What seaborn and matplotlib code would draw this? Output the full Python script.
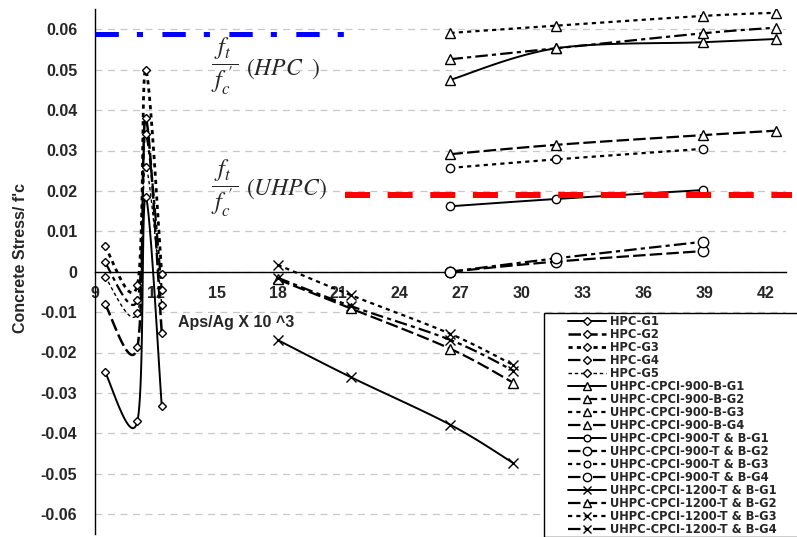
import numpy as np
import matplotlib
matplotlib.use("Agg")
import matplotlib.pyplot as plt
import seaborn as sns
from matplotlib.lines import Line2D
from matplotlib.patches import Rectangle
from matplotlib.ticker import MultipleLocator, FuncFormatter, FixedLocator

# ---- data: Aps/Ag x 10^3 vs concrete stress / f'c ----
hpc_x = [9.5, 11.1, 11.5, 12.3]
hpc_g1 = [-0.0248, -0.0370, 0.0185, -0.0333]
hpc_g2 = [-0.0080, -0.0186, 0.0380, -0.0151]
hpc_g3 = [0.0063, -0.0033, 0.0500, -0.0006]
hpc_g4 = [0.0023, -0.0070, 0.0340, -0.0045]
hpc_g5 = [-0.0012, -0.0103, 0.0260, -0.0082]

b900_x = [26.5, 31.7, 38.9, 42.5]
b900_g1 = [0.0475, 0.0553, 0.0568, 0.0576]
b900_g2 = [0.0291, 0.0314, 0.0338, 0.0349]
b900_g3 = [0.0591, 0.0609, 0.0633, 0.0641]
b900_g4 = [0.0526, 0.0553, 0.0590, 0.0604]

tb900_x = [26.5, 31.7, 38.9]
tb900_g1 = [0.0162, 0.0180, 0.0202]
tb900_g2 = [0.0000, 0.0025, 0.0051]
tb900_g3 = [0.0257, 0.0278, 0.0304]
tb900_g4 = [0.0000, 0.0033, 0.0074]

tb1200_x = [18.0, 21.6, 26.5, 29.6]
tb1200_g1 = [-0.0169, -0.0261, -0.0379, -0.0474]
tb1200_g2 = [-0.0019, -0.0091, -0.0191, -0.0275]
tb1200_g3 = [0.0017, -0.0058, -0.0154, -0.0231]
tb1200_g4 = [-0.0015, -0.0085, -0.0169, -0.0245]

# tensile / compressive strength ratios
ratio_hpc = 0.0588
ratio_hpc_span = [9.0, 21.3]
ratio_uhpc = 0.0191
ratio_uhpc_span = [21.3, 43.3]

x_ticks = [9, 12, 15, 18, 21, 24, 27, 30, 33, 36, 39, 42]
y_ticks = [-0.06, -0.05, -0.04, -0.03, -0.02, -0.01, 0.0,
           0.01, 0.02, 0.03, 0.04, 0.05, 0.06]

labels = [
    "HPC-G1", "HPC-G2", "HPC-G3", "HPC-G4", "HPC-G5",
    "UHPC-CPCI-900-B-G1", "UHPC-CPCI-900-B-G2", "UHPC-CPCI-900-B-G3",
    "UHPC-CPCI-900-B-G4",
    "UHPC-CPCI-900-T & B-G1", "UHPC-CPCI-900-T & B-G2",
    "UHPC-CPCI-900-T & B-G3", "UHPC-CPCI-900-T & B-G4",
    "UHPC-CPCI-1200-T & B-G1", "UHPC-CPCI-1200-T & B-G2",
    "UHPC-CPCI-1200-T & B-G3", "UHPC-CPCI-1200-T & B-G4",
]

# ---- styling ----
sns.set_style("white")
plt.rcParams["font.family"] = ["Liberation Sans", "DejaVu Sans"]
plt.rcParams["axes.unicode_minus"] = False
plt.rcParams["lines.scale_dashes"] = False
plt.rcParams["mathtext.fontset"] = "stix"

W, H = 797, 537
fig = plt.figure(figsize=(W / 100, H / 100), dpi=100)
ax_left, ax_right, ax_top, ax_bot = 94.7, 785.9, 9.1, 534.3
ax = fig.add_axes([ax_left / W, 1 - ax_bot / H,
                   (ax_right - ax_left) / W, (ax_bot - ax_top) / H])
ax.set_xlim(9, 43)
ax.set_ylim(-0.065, 0.065)

SOLID = "-"
LONG = (0, (9, 3))
SHORT = (0, (3, 3))
DASHDOT = (0, (9, 3, 3, 3))
THIN = (0, (2.5, 2))


def smooth(xs, ys, steps=30):
    """Bezier smoothing (Catmull-Rom style) done in screen space."""
    pts = ax.transData.transform(np.column_stack([xs, ys]))
    n = len(pts)
    out = [pts[0]]
    t = np.linspace(0, 1, steps)[1:, None]
    for i in range(n - 1):
        p0 = pts[max(i - 1, 0)]
        p1 = pts[i]
        p2 = pts[i + 1]
        p3 = pts[min(i + 2, n - 1)]
        c1 = p1 + (p2 - p0) / 6
        c2 = p2 - (p3 - p1) / 6
        seg = ((1 - t) ** 3) * p1 + 3 * ((1 - t) ** 2) * t * c1 \
            + 3 * (1 - t) * (t ** 2) * c2 + (t ** 3) * p2
        out.extend(seg)
    out = ax.transData.inverted().transform(np.array(out))
    return out[:, 0], out[:, 1]


series = [
    (hpc_x, hpc_g1, SOLID, 1.4, "D", 4.5),
    (hpc_x, hpc_g2, LONG, 1.8, "D", 4.5),
    (hpc_x, hpc_g3, SHORT, 2.0, "D", 4.5),
    (hpc_x, hpc_g4, DASHDOT, 1.6, "D", 4.5),
    (hpc_x, hpc_g5, THIN, 1.0, "D", 4.5),
    (b900_x, b900_g1, SOLID, 1.4, "^", 6.5),
    (b900_x, b900_g2, LONG, 1.6, "^", 6.5),
    (b900_x, b900_g3, SHORT, 1.6, "^", 6.5),
    (b900_x, b900_g4, DASHDOT, 1.6, "^", 6.5),
    (tb900_x, tb900_g1, SOLID, 1.4, "o", 6),
    (tb900_x, tb900_g2, LONG, 1.6, "o", 7.5),
    (tb900_x, tb900_g3, SHORT, 1.6, "o", 6),
    (tb900_x, tb900_g4, DASHDOT, 1.6, "o", 7.5),
    (tb1200_x, tb1200_g1, SOLID, 1.4, "x", 7),
    (tb1200_x, tb1200_g2, LONG, 1.6, "^", 6.5),
    (tb1200_x, tb1200_g3, SHORT, 1.6, "x", 7),
    (tb1200_x, tb1200_g4, DASHDOT, 1.6, "x", 7),
]

for xs, ys, ls, lw, mk, ms in series:
    sx, sy = smooth(xs, ys)
    sns.lineplot(x=sx, y=sy, sort=False, estimator=None, color="black",
                 linewidth=lw, ax=ax, zorder=3)
    ln = ax.lines[-1]
    ln.set_linestyle(ls)
    ln.set_dash_capstyle("butt")
    ax.plot(xs, ys, linestyle="none", marker=mk, markersize=ms,
            markerfacecolor="white", markeredgecolor="black",
            markeredgewidth=1.0, zorder=4)

# strength ratio reference lines
ax.plot(ratio_hpc_span, [ratio_hpc, ratio_hpc], color="#0000ff", lw=3.6,
        linestyle=(0, (16.8, 13, 4.4, 14)), dash_capstyle="butt",
        solid_capstyle="butt", zorder=5, clip_on=False)
ax.plot(ratio_uhpc_span, [ratio_uhpc, ratio_uhpc], color="#ff0000", lw=4.3,
        linestyle=(0, (18, 12.7)), dash_capstyle="butt",
        solid_capstyle="butt", zorder=5, clip_on=False)

frac = r"$\dfrac{\,f_t\,}{\,f_c^{\;\prime}\,}$"
for frac_y, tag_y, tag in ((67, 69, r"$(HPC\;\ )$"), (189, 189, r"$(UHPC)$")):
    fig.text(211 / W, 1 - frac_y / H, frac, fontsize=17.5,
             fontweight="normal", ha="left", va="center")
    fig.text(246 / W, 1 - tag_y / H, tag, fontsize=17,
             fontweight="normal", ha="left", va="center")

# axes, spines and grid
for side in ("top", "right"):
    ax.spines[side].set_visible(False)
ax.spines["bottom"].set_position(("data", 0))
for side in ("left", "bottom"):
    ax.spines[side].set_color("black")
    ax.spines[side].set_linewidth(1.0)

ax.xaxis.set_major_locator(FixedLocator(x_ticks))
ax.xaxis.set_minor_locator(MultipleLocator(0.6))
ax.yaxis.set_major_locator(FixedLocator(y_ticks))
ax.yaxis.set_major_formatter(
    FuncFormatter(lambda v, p: "0" if abs(v) < 1e-9 else f"{v:.2f}"))
ax.tick_params(axis="x", which="major", direction="inout", length=9,
               width=1, color="black", labelsize=11.5, pad=5.5)
ax.tick_params(axis="x", which="minor", direction="inout", length=6,
               width=1, color="black")
ax.tick_params(axis="y", which="major", direction="out", length=4.5,
               width=1, color="black", labelsize=11.5, pad=8)
for lab in ax.get_xticklabels() + ax.get_yticklabels():
    lab.set_fontweight("bold")

ax.yaxis.grid(True, color="#c8c8c8", linestyle=(0, (5, 4)), linewidth=0.9)
ax.xaxis.grid(False)
ax.set_axisbelow(True)

fig.text(236 / W, 1 - 322 / H, "Aps/Ag X 10 ^3", fontsize=11.5,
         fontweight="bold", ha="center", va="center")
fig.text(21 / W, 1 - 258 / H, "Concrete Stress/ f'c", fontsize=11.5,
         fontweight="bold", ha="center", va="center", rotation=90)

# legend in a box at the lower right
fig.add_artist(Rectangle((544 / W, 0.5 / H), (W - 544 + 10) / W,
                         (H - 313 - 0.5) / H, transform=fig.transFigure,
                         facecolor="white", edgecolor="black", lw=1.0,
                         zorder=4))
handles = [Line2D([0], [0], color="black", lw=lw, linestyle=ls, marker=mk,
                  markersize=ms * 0.8, markerfacecolor="white",
                  markeredgecolor="black", markeredgewidth=1.0)
           for _, _, ls, lw, mk, ms in series]
leg = fig.legend(handles, labels, loc="upper left",
                 bbox_to_anchor=(568 / W, 1 - 315 / H), frameon=False,
                 prop={"family": ["DejaVu Sans"],
                       "weight": "bold", "size": 8.3},
                 handlelength=3.3, handletextpad=0.35, labelspacing=0.0,
                 borderpad=0, borderaxespad=0)
leg.set_zorder(6)

fig.savefig("out.png", dpi=100)
